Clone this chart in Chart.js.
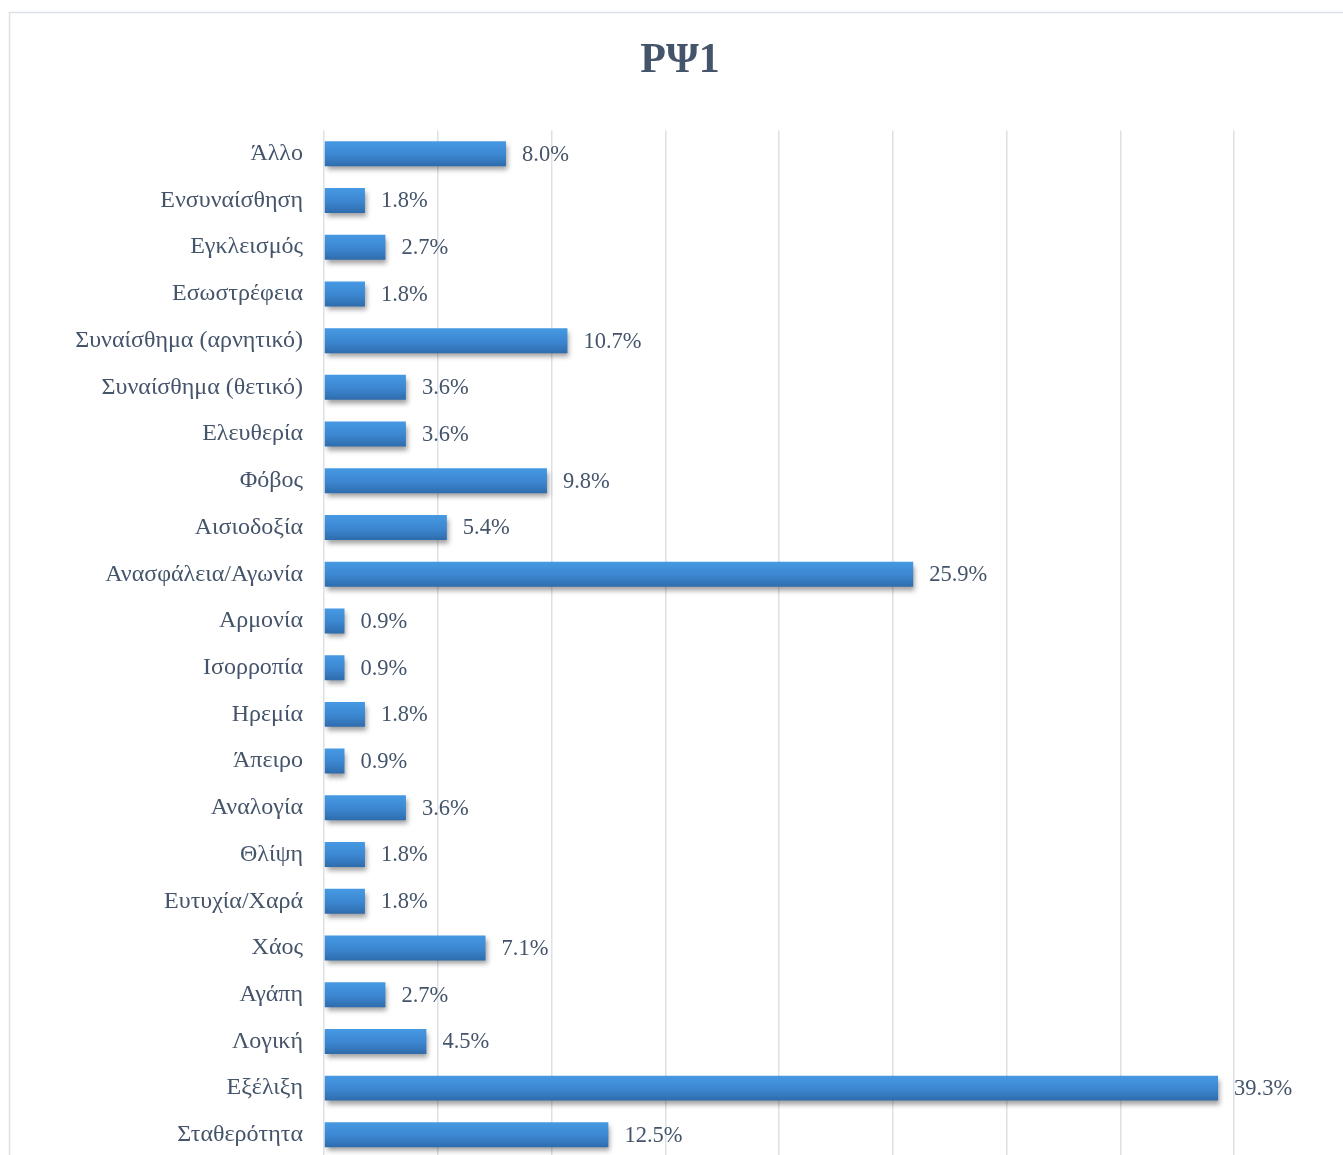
<!DOCTYPE html>
<html>
<head>
<meta charset="utf-8">
<title>ΡΨ1</title>
<script src="https://cdn.jsdelivr.net/npm/chart.js@4.4.1/dist/chart.umd.min.js"></script>
<style>
  html, body { margin: 0; padding: 0; background: #ffffff; overflow: hidden; }
  #wrap { position: relative; width: 1343px; height: 1165px; overflow: hidden; }
  #chart { display: block; }
</style>
</head>
<body>
<div id="wrap"><canvas id="chart" width="1343" height="1165"></canvas></div>
<script>
// Chart content
const chartTitle = 'ΡΨ1';
const categories = [
  'Άλλο', 'Ενσυναίσθηση', 'Εγκλεισμός', 'Εσωστρέφεια', 'Συναίσθημα (αρνητικό)',
  'Συναίσθημα (θετικό)', 'Ελευθερία', 'Φόβος', 'Αισιοδοξία', 'Ανασφάλεια/Αγωνία',
  'Αρμονία', 'Ισορροπία', 'Ηρεμία', 'Άπειρο', 'Αναλογία', 'Θλίψη', 'Ευτυχία/Χαρά',
  'Χάος', 'Αγάπη', 'Λογική', 'Εξέλιξη', 'Σταθερότητα'
];
const shares = [
  8.0, 1.8, 2.7, 1.8, 10.7,
  3.6, 3.6, 9.8, 5.4, 25.9,
  0.9, 0.9, 1.8, 0.9, 3.6, 1.8, 1.8,
  7.1, 2.7, 4.5, 39.3, 12.5
];
const axisMin = 0;
const axisMax = 40;
const axisStep = 5;

const TEXT = '#44546A';
const SERIF = '"Liberation Serif", "Times New Roman", serif';
const BAR_FRACTION = 0.535;

// Vertical blue gradient per bar, sized from the category scale
function barFill(ctx) {
  const chart = ctx.chart;
  const y = chart.scales && chart.scales.y;
  if (!y || ctx.dataIndex === undefined) return '#3A84CC';
  const c = y.getPixelForValue(ctx.dataIndex);
  const step = Math.abs(y.getPixelForValue(1) - y.getPixelForValue(0));
  if (!isFinite(c) || !isFinite(step) || step === 0) return '#3A84CC';
  const half = step * BAR_FRACTION / 2;
  const g = chart.ctx.createLinearGradient(0, c - half, 0, c + half);
  g.addColorStop(0, '#4699E3');
  g.addColorStop(0.55, '#3C86D0');
  g.addColorStop(1, '#2E6CAC');
  return g;
}

// Frame and title
const framePlugin = {
  id: 'frame',
  beforeDraw(chart) {
    const ctx = chart.ctx;
    ctx.save();
    ctx.fillStyle = '#ffffff';
    ctx.fillRect(0, 0, chart.width, chart.height);
    ctx.strokeStyle = '#DCE1E7';
    ctx.lineWidth = 1.5;
    ctx.strokeRect(9.5, 12.5, 1400, 1300);
    ctx.fillStyle = TEXT;
    ctx.font = 'bold 42px ' + SERIF;
    ctx.textAlign = 'center';
    ctx.textBaseline = 'alphabetic';
    ctx.fillText(chartTitle, 680, 72);
    ctx.restore();
  }
};

// Soft drop shadow under the bars
const shadowPlugin = {
  id: 'barShadow',
  beforeDatasetDraw(chart) {
    const ctx = chart.ctx;
    ctx.save();
    ctx.shadowColor = 'rgba(0,0,0,0.38)';
    ctx.shadowBlur = 5;
    ctx.shadowOffsetX = 2;
    ctx.shadowOffsetY = 4;
  },
  afterDatasetDraw(chart) {
    chart.ctx.restore();
  }
};

// Percentage labels at the end of each bar
const valueLabelPlugin = {
  id: 'valueLabels',
  afterDatasetsDraw(chart) {
    const ctx = chart.ctx;
    const meta = chart.getDatasetMeta(0);
    const values = chart.data.datasets[0].data;
    ctx.save();
    ctx.fillStyle = TEXT;
    ctx.font = '22.5px ' + SERIF;
    ctx.textAlign = 'left';
    ctx.textBaseline = 'middle';
    meta.data.forEach((bar, i) => {
      ctx.fillText(values[i].toFixed(1) + '%', bar.x + 16, bar.y + 1);
    });
    ctx.restore();
  }
};

new Chart(document.getElementById('chart'), {
  type: 'bar',
  data: {
    labels: categories,
    datasets: [{
      data: shares,
      backgroundColor: barFill,
      borderWidth: 0,
      barPercentage: 1,
      categoryPercentage: BAR_FRACTION
    }]
  },
  options: {
    indexAxis: 'y',
    responsive: false,
    animation: false,
    events: [],
    layout: { padding: { top: 130.4, bottom: 6.8, left: 0, right: 109 } },
    plugins: {
      legend: { display: false },
      title: { display: false },
      tooltip: { enabled: false }
    },
    scales: {
      x: {
        min: axisMin,
        max: axisMax,
        afterFit(scale) {
          scale.height = 0;
          scale.paddingLeft = 0;
          scale.paddingRight = 0;
        },
        ticks: { display: false, stepSize: axisStep },
        grid: { color: '#DCE1E8', lineWidth: 1.5, drawTicks: false },
        border: { display: false }
      },
      y: {
        afterFit(scale) {
          scale.width = 324;
          scale.paddingTop = 0;
          scale.paddingBottom = 0;
        },
        ticks: {
          color: TEXT,
          padding: 21,
          font: { family: SERIF, size: 24 }
        },
        grid: { display: false, drawTicks: false },
        border: { display: false }
      }
    }
  },
  plugins: [framePlugin, shadowPlugin, valueLabelPlugin]
});
</script>
</body>
</html>
